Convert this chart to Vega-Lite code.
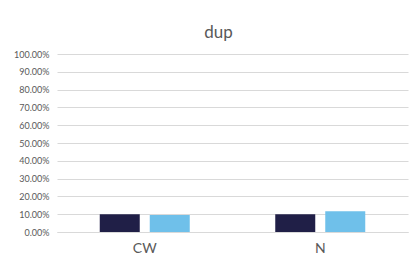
{
  "$schema": "https://vega.github.io/schema/vega-lite/v6.json",
  "autosize": "none",
  "width": 351,
  "height": 178,
  "padding": {"left": 57, "top": 54, "right": 6, "bottom": 22},
  "background": "white",
  "title": {"text": "dup", "fontSize": 17, "font": "Lato", "fontWeight": "normal", "color": "#595959", "dx": -14, "offset": 8, "anchor": "middle"},
  "data": {"values": [
    {"cat": "CW", "series": "A", "value": 0.10},
    {"cat": "CW", "series": "B", "value": 0.095},
    {"cat": "N", "series": "A", "value": 0.10},
    {"cat": "N", "series": "B", "value": 0.117}
  ]},
  "mark": {"type": "bar"},
  "encoding": {
    "x": {"field": "cat", "type": "nominal", "scale": {"paddingInner": 0, "paddingOuter": 0},
      "axis": {"title": null, "labelAngle": 0, "labelFont": "Lato", "labelFontSize": 14, "labelColor": "#595959", "ticks": false, "domainColor": "#d9d9d9", "domainWidth": 1, "labelPadding": 9}},
    "xOffset": {"field": "series", "type": "nominal", "scale": {"paddingInner": 0.2, "paddingOuter": 0.855}},
    "y": {"field": "value", "type": "quantitative", "scale": {"domain": [0, 1], "nice": false},
      "axis": {"title": null, "format": ".2%", "values": [0,0.1,0.2,0.3,0.4,0.5,0.6,0.7,0.8,0.9,1], "labelFont": "Lato", "labelFontSize": 9, "labelColor": "#595959", "ticks": false, "domain": false, "gridColor": "#d9d9d9", "gridWidth": 1, "labelPadding": 8}},
    "color": {"field": "series", "type": "nominal", "scale": {"domain": ["A", "B"], "range": ["#201f47", "#6fc0ea"]}, "legend": null}
  },
  "config": {"view": {"stroke": null}}
}
